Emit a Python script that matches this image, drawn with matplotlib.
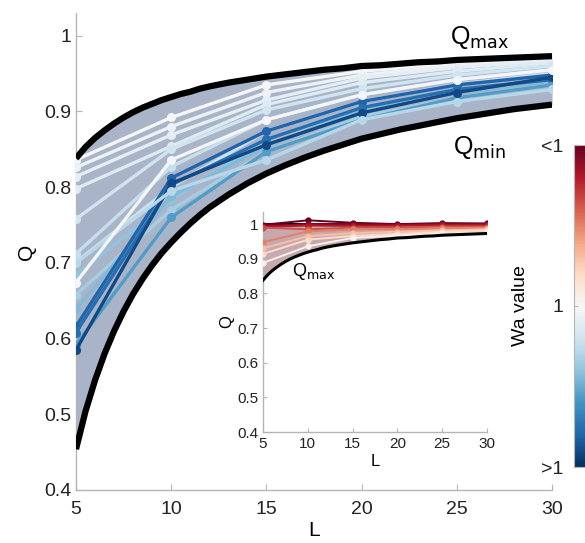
import matplotlib
matplotlib.use("Agg")
import matplotlib.pyplot as plt
from matplotlib import cm
from matplotlib.colors import Normalize

plt.rcParams["font.family"] = ["Liberation Sans", "DejaVu Sans"]

# bound curves: half steps where they bend sharply, integer steps after
L_fine = [5, 5.5, 6, 6.5, 7, 7.5, 8, 8.5, 9, 9.5, 10, 10.5, 11, 11.5, 12,
          13, 14, 15, 16, 17, 18, 19, 20, 21, 22, 23, 24, 25, 26, 27, 28,
          29, 30]
q_max = [0.838, 0.853, 0.865, 0.875, 0.884, 0.892, 0.899, 0.905, 0.910,
         0.915, 0.919, 0.923, 0.926, 0.930, 0.933, 0.938, 0.942, 0.946,
         0.949, 0.952, 0.955, 0.957, 0.960, 0.961, 0.963, 0.965, 0.966,
         0.968, 0.969, 0.970, 0.971, 0.972, 0.973]
q_min = [0.454, 0.504, 0.545, 0.580, 0.610, 0.636, 0.659, 0.679, 0.697,
         0.713, 0.727, 0.740, 0.752, 0.763, 0.773, 0.790, 0.805, 0.818,
         0.829, 0.839, 0.848, 0.856, 0.864, 0.870, 0.876, 0.881, 0.886,
         0.891, 0.895, 0.899, 0.903, 0.906, 0.909]

L_pts = [5, 10, 15, 20, 25, 30]

# Wa > 1 runs: (colour position on the diverging map, Q values)
wa_hi_color = [0.50, 0.47, 0.45, 0.43, 0.40, 0.38, 0.39, 0.30, 0.33, 0.28,
               0.10, 0.12, 0.22, 0.05, 0.36, 0.49]
wa_hi_q = [
    [0.836, 0.892, 0.935, 0.953, 0.964, 0.973],
    [0.826, 0.880, 0.925, 0.948, 0.961, 0.970],
    [0.814, 0.869, 0.915, 0.944, 0.958, 0.967],
    [0.798, 0.854, 0.909, 0.938, 0.953, 0.964],
    [0.758, 0.850, 0.902, 0.930, 0.948, 0.960],
    [0.712, 0.827, 0.889, 0.922, 0.942, 0.955],
    [0.701, 0.800, 0.874, 0.913, 0.936, 0.950],
    [0.684, 0.783, 0.863, 0.902, 0.929, 0.942],
    [0.658, 0.770, 0.847, 0.893, 0.918, 0.935],
    [0.639, 0.788, 0.854, 0.902, 0.925, 0.940],
    [0.616, 0.812, 0.874, 0.913, 0.935, 0.948],
    [0.608, 0.803, 0.863, 0.905, 0.929, 0.942],
    [0.592, 0.760, 0.847, 0.889, 0.918, 0.935],
    [0.585, 0.805, 0.856, 0.898, 0.925, 0.945],
    [0.700, 0.795, 0.836, 0.889, 0.913, 0.929],
    [0.674, 0.836, 0.889, 0.922, 0.942, 0.955],
]

# Wa < 1 runs for the inset
wa_lo_color = [1.00, 0.95, 0.90, 0.82, 0.75, 0.65, 0.60, 0.52]
wa_lo_q = [
    [0.998, 1.011, 1.004, 1.000, 1.003, 1.002],
    [0.995, 1.000, 1.000, 0.998, 1.000, 1.000],
    [0.992, 0.996, 0.995, 0.995, 0.997, 0.997],
    [0.990, 0.985, 0.990, 0.990, 0.993, 0.993],
    [0.948, 0.979, 0.985, 0.985, 0.988, 0.990],
    [0.930, 0.965, 0.974, 0.978, 0.982, 0.985],
    [0.914, 0.955, 0.966, 0.972, 0.978, 0.982],
    [0.888, 0.936, 0.960, 0.967, 0.973, 0.976],
]
inset_top = [1.0] * len(L_fine)

cmap = plt.get_cmap("RdBu_r")
SPINE = "#b5b5b5"


def style_axes(ax, size):
    for s in ("top", "right"):
        ax.spines[s].set_visible(False)
    for s in ("left", "bottom"):
        ax.spines[s].set_color(SPINE)
        ax.spines[s].set_linewidth(1.0)
    ax.tick_params(direction="in", length=4, width=0.8, color=SPINE,
                   labelsize=size, labelcolor="#222222")


fig = plt.figure(figsize=(5.85, 5.43), dpi=100)
W, H = 585, 543

# main panel
ax = fig.add_axes([76 / W, 1 - 490 / H, (552 - 76) / W, (490 - 13) / H])
ax.fill_between(L_fine, q_min, q_max, color="#a9b4c9", lw=0, zorder=1)
for c, q in zip(wa_hi_color, wa_hi_q):
    ax.plot(L_pts, q, "-o", color=cmap(c), lw=2.4, ms=5.5, mec=cmap(c),
            zorder=3)
for bound in (q_max, q_min):
    ax.plot(L_fine, bound, color="black", lw=4.5, solid_capstyle="butt",
            solid_joinstyle="round", zorder=4)
ax.set_xlim(5, 30)
ax.set_ylim(0.4, 1.03)
ax.set_xticks([5, 10, 15, 20, 25, 30])
ax.set_yticks([0.4, 0.5, 0.6, 0.7, 0.8, 0.9, 1.0])
ax.set_yticklabels(["0.4", "0.5", "0.6", "0.7", "0.8", "0.9", "1"])
style_axes(ax, 14)
ax.tick_params(axis="x", pad=8)
ax.set_xlabel("L", fontsize=15, labelpad=2)
ax.set_ylabel("Q", fontsize=15, labelpad=6)
ax.text(26.2, 0.997, r"Q$_{\mathrm{max}}$", fontsize=18, ha="center",
        va="center")
ax.text(26.2, 0.853, r"Q$_{\mathrm{min}}$", fontsize=18, ha="center",
        va="center")

# inset panel
ax2 = fig.add_axes([263 / W, 1 - 432 / H, (487 - 263) / W, (432 - 212) / H])
ax2.fill_between(L_fine, q_max, inset_top, color="#c6a9ae", lw=0, zorder=1)
ax2.plot(L_fine, inset_top, color="black", lw=2.2, zorder=2)
for c, q in zip(wa_lo_color, wa_lo_q):
    ax2.plot(L_pts, q, "-o", color=cmap(c), lw=1.4, ms=3.5, mec=cmap(c),
             zorder=3)
ax2.plot(L_fine, q_max, color="black", lw=2.2, solid_joinstyle="round",
         zorder=4)
ax2.set_xlim(5, 30)
ax2.set_ylim(0.4, 1.035)
ax2.set_xticks([5, 10, 15, 20, 25, 30])
ax2.set_yticks([0.4, 0.5, 0.6, 0.7, 0.8, 0.9, 1.0])
ax2.set_yticklabels(["0.4", "0.5", "0.6", "0.7", "0.8", "0.9", "1"])
style_axes(ax2, 11)
ax2.tick_params(length=3)
ax2.set_xlabel("L", fontsize=12, labelpad=2)
ax2.set_ylabel("Q", fontsize=12, labelpad=2)
ax2.text(10.6, 0.862, r"Q$_{\mathrm{max}}$", fontsize=13, ha="center",
         va="center")

# colour bar
cax = fig.add_axes([574 / W, 1 - 467 / H, 16 / W, (467 - 145) / H])
cb = fig.colorbar(cm.ScalarMappable(norm=Normalize(0, 1), cmap=cmap),
                  cax=cax)
cb.outline.set_edgecolor(SPINE)
cb.outline.set_linewidth(0.8)
cax.yaxis.set_ticks_position("left")
cax.yaxis.set_label_position("left")
cb.set_ticks([0, 0.5, 1])
cb.set_ticklabels([">1", "1", "<1"])
cax.tick_params(direction="in", length=3, color=SPINE, labelsize=14,
                labelcolor="#222222", pad=8)
cb.set_label("Wa value", fontsize=14, labelpad=8)

fig.savefig("out.png", dpi=100)
